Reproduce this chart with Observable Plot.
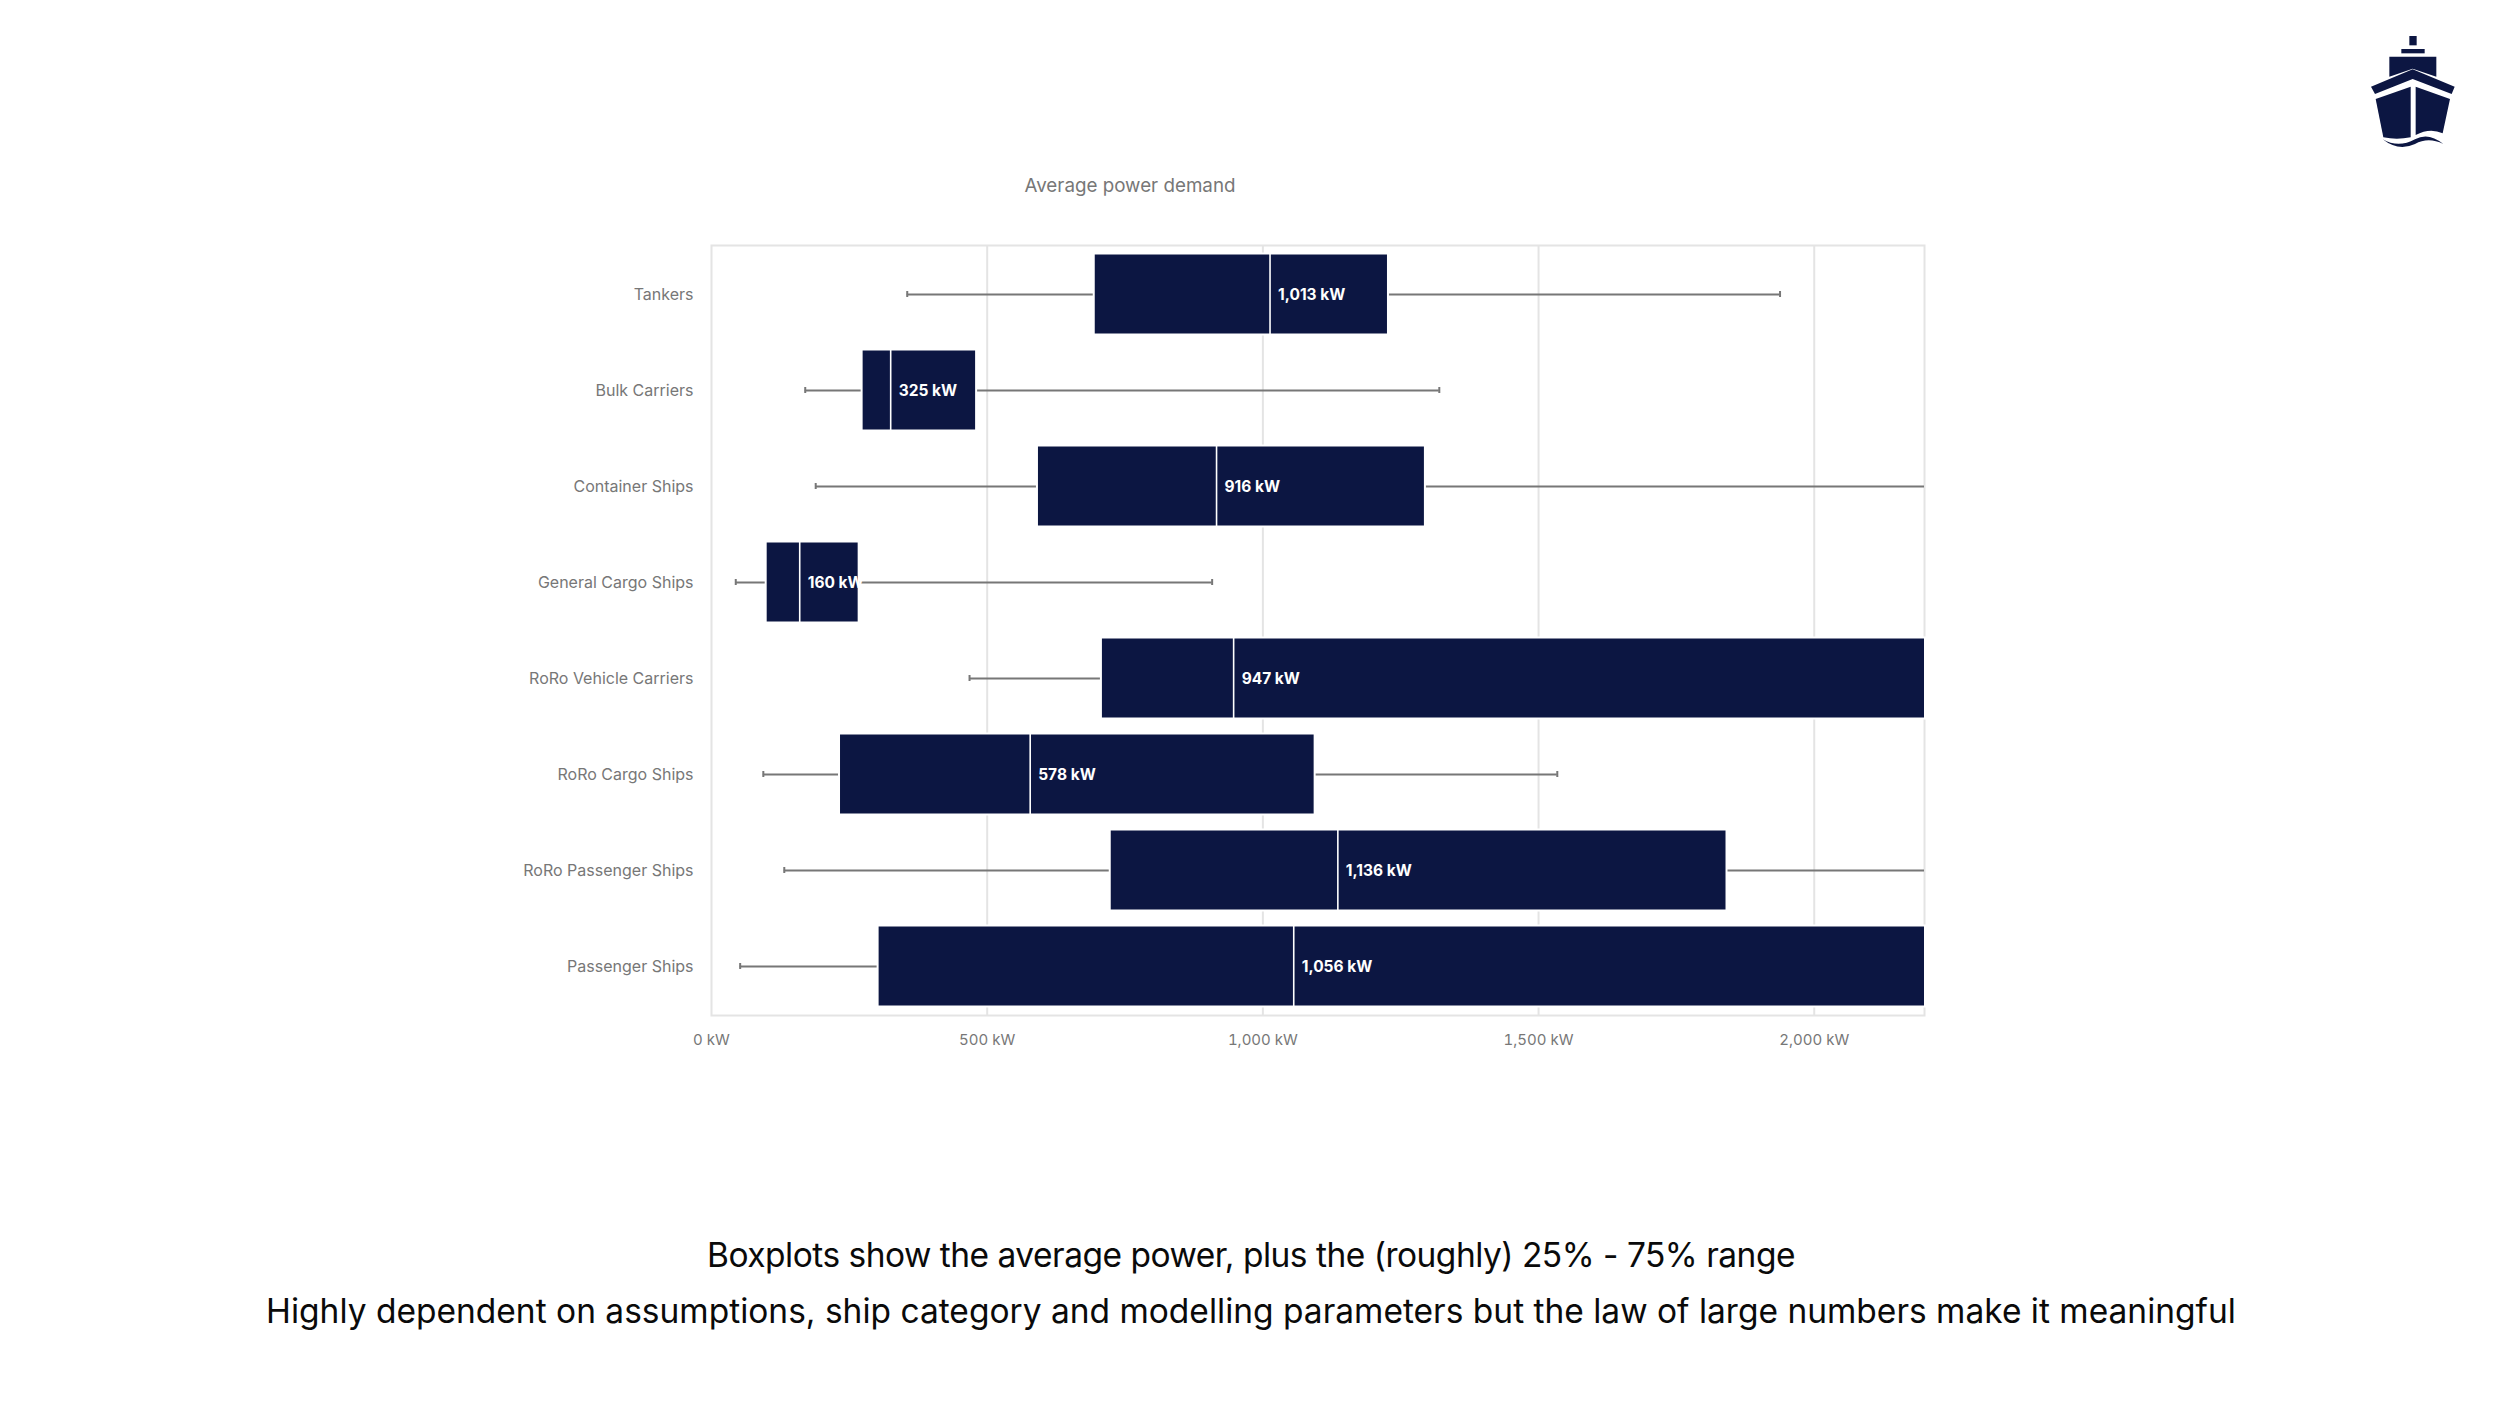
<!DOCTYPE html>
<html>
<head>
<meta charset="utf-8">
<script src="https://cdn.jsdelivr.net/npm/d3@7"></script>
<script src="https://cdn.jsdelivr.net/npm/@observablehq/plot@0.6"></script>
<style>
html,body{margin:0;padding:0;background:#fff;width:2500px;height:1406px;overflow:hidden;font-family:Inter,sans-serif}
#title{height:215px;position:relative}
#title span{position:absolute;left:1130px;top:174px;transform:translateX(-50%);font-size:18.8px;color:#777;white-space:nowrap}
#caption{text-align:center;color:#0a0a0a;font-size:33.5px;line-height:56px;padding-left:2px;margin-top:147px;white-space:nowrap}
#caption .first{letter-spacing:-0.5px}
#logo{position:absolute;left:2340px;top:20px;width:150px;height:140px}
svg{display:block}
</style>
</head>
<body>
<svg id="logo" viewBox="0 0 450 420" fill="#0c1642">
<path d="M208 48H230V76H208Z"/><path d="M184 87H254V100H184Z"/>
<path d="M148 110H289V170L218 146L148 170Z"/>
<path d="M93 200L218 148L344 200L335 222L218 177L105 222Z"/>
<path d="M107 237L212 200V352Q170 360 130 352Z"/>
<path d="M227 200L330 237L308 340Q270 322 227 345Z"/>
<path d="M128 358Q175 385 225 358Q265 335 310 372Q265 350 225 372Q175 395 128 358Z"/>
</svg>
<div id="title"><span>Average power demand</span></div>
<div id="chart"></div>
<div id="caption"><span class="first">Boxplots show the average power, plus the (roughly) 25% - 75% range</span><br>Highly dependent on assumptions, ship category and modelling parameters but the law of large numbers make it meaningful</div>
<script>
const categories = ["Tankers","Bulk Carriers","Container Ships","General Cargo Ships","RoRo Vehicle Carriers","RoRo Cargo Ships","RoRo Passenger Ships","Passenger Ships"];
const whiskerLow  = [355,170,189,44,468,94,132,52];
const boxLow      = [696,275,593,101,709,234,725,304];
const average     = [1013,325,916,160,947,578,1136,1056];
const boxHigh     = [1226,479,1293,266,2200,1093,1840,2200];
const whiskerHigh = [1938,1320,2200,908,2200,1534,2200,2200];
const xTicks = [0,500,1000,1500,2000];
const axisMax = 2200;

const rows = categories.map((name,i)=>({name,lo:whiskerLow[i],q1:boxLow[i],avg:average[i],q3:boxHigh[i],hi:whiskerHigh[i]}));
const kw = d => d3.format(",")(d) + " kW";
const navy = "#0c1642", whisker = "#777", gridC = "#e4e4e4";

const plot = Plot.plot({
  width: 2500, height: 865,
  marginLeft: 711, marginRight: 576, marginTop: 30, marginBottom: 65,
  style: {fontFamily: "Inter, sans-serif", background: "#fff"},
  x: {domain: [0, axisMax], ticks: xTicks, label: null},
  y: {domain: categories, paddingInner: 0.184, paddingOuter: 0.092, label: null},
  marks: [
    Plot.ruleX(xTicks.slice(1), {stroke: gridC, strokeWidth: 2}),
    Plot.frame({stroke: gridC, strokeWidth: 2}),
    Plot.ruleY(rows, {y: "name", x1: "lo", x2: "hi", stroke: whisker, strokeWidth: 2}),
    Plot.tickX(rows, {x: "lo", y: "name", stroke: whisker, strokeWidth: 2, insetTop: 36, insetBottom: 36}),
    Plot.tickX(rows.filter(d => d.hi < axisMax), {x: "hi", y: "name", stroke: whisker, strokeWidth: 2, insetTop: 36, insetBottom: 36}),
    Plot.barX(rows, {x1: "q1", x2: "q3", y: "name", fill: navy, stroke: "#fff", strokeWidth: 2, insetLeft: -1, insetRight: -1, insetTop: -1.5, insetBottom: -1.5}),
    Plot.tickX(rows, {x: "avg", y: "name", stroke: "#fff", strokeWidth: 1.6, insetTop: -1, insetBottom: -1}),
    Plot.text(rows, {x: "avg", y: "name", text: d => kw(d.avg), dx: 8, dy: 1, textAnchor: "start", fill: "#fff", fontWeight: 700, fontSize: 15.5}),
    Plot.axisX({ticks: xTicks, tickFormat: kw, tickSize: 0, tickPadding: 19, fontSize: 15, color: whisker, label: null}),
    Plot.axisY({tickSize: 0, tickPadding: 18, fontSize: 16, color: whisker, label: null})
  ]
});
document.getElementById("chart").appendChild(plot);
</script>
</body>
</html>
